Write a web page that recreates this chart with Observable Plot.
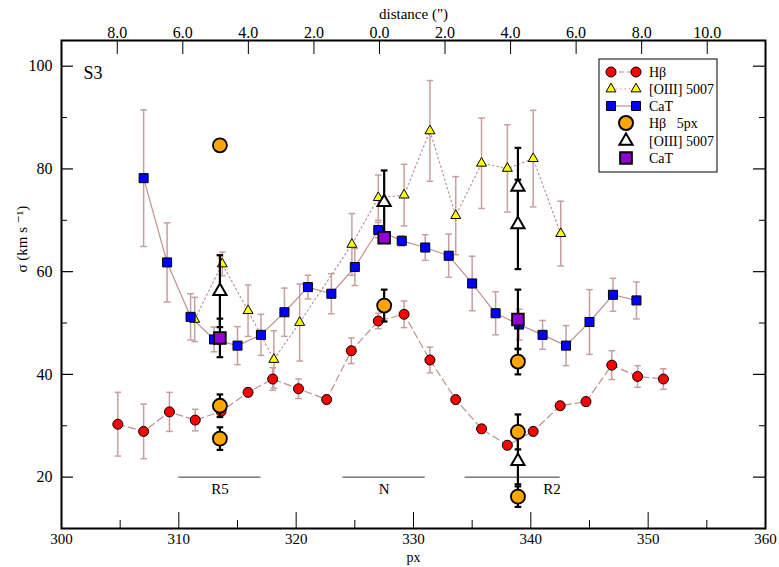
<!DOCTYPE html>
<html><head><meta charset="utf-8">
<script src="https://cdn.jsdelivr.net/npm/d3@7"></script>
<script src="https://cdn.jsdelivr.net/npm/@observablehq/plot@0.6"></script>
<style>
body{margin:0;background:#fff;}
#wrap{position:relative;width:779px;height:567px;font-family:"Liberation Serif","Times New Roman","DejaVu Serif","Noto Serif",serif;}
#wrap svg, #wrap text{font-family:"Liberation Serif","Times New Roman","DejaVu Serif","Noto Serif",serif !important;}
</style></head><body><div id="wrap"></div>
<script>
// ---------- data ----------
const hbX   = [304.8, 307.0, 309.2, 311.4, 313.6, 315.9, 318.0, 320.2, 322.6, 324.7, 327.0, 329.2, 331.4, 333.6, 335.8, 338.0, 340.2, 342.5, 344.7, 346.9, 349.1, 351.3];
const hbY   = [30.3, 28.9, 32.7, 31.1, 32.8, 36.5, 39.1, 37.2, 35.1, 44.6, 50.4, 51.7, 42.8, 35.1, 29.4, 26.2, 28.9, 33.9, 34.7, 41.8, 39.6, 39.1];
const hbErr = [6.2, 5.3, 3.8, 2.1, 0.8, 0.8, 2.2, 1.9, 0.8, 2.5, 1.5, 2.6, 2.5, 0.8, 0.8, 0.8, 0.8, 0.8, 0.8, 2.8, 2.1, 2.0];

const oiiiX   = [311.35, 313.7, 315.9, 318.1, 320.3, 324.75, 327.0, 329.2, 331.4, 333.6, 335.8, 338.0, 340.2, 342.55];
const oiiiY   = [50.7, 61.5, 52.4, 42.9, 50.1, 65.3, 74.4, 74.9, 87.4, 70.9, 81.1, 80.1, 82.0, 67.4];
const oiiiErr = [4.3, 2.3, 5.0, 5.6, 7.5, 6.0, 4.4, 6.0, 9.8, 7.6, 8.8, 8.5, 9.4, 6.3];

const catX   = [307, 309, 311, 313, 315, 317, 319, 321, 323, 325, 327, 329, 331, 333, 335, 337, 339, 341, 343, 345, 347, 349];
const catY   = [78.2, 61.8, 51.2, 46.8, 45.6, 47.7, 52.1, 57.0, 55.7, 60.9, 68.1, 66.0, 64.7, 63.1, 57.7, 51.9, 49.7, 47.7, 45.6, 50.2, 55.5, 54.4];
const catErr = [13.3, 7.7, 4.5, 2.4, 3.7, 4.0, 4.7, 2.3, 3.9, 3.6, 1.5, 1.0, 2.5, 4.2, 5.3, 4.2, 3.0, 2.8, 3.9, 6.3, 3.2, 3.6];

const hbBigX   = [313.5, 313.5, 313.5, 327.5, 338.9, 338.9, 338.9];
const hbBigY   = [84.6, 33.9, 27.5, 53.4, 42.5, 28.8, 16.2];
const hbBigErr = [0, 2.2, 2.2, 3.1, 2.5, 3.4, 2.0];

const oiiiBigX   = [313.5, 327.5, 338.9, 338.9, 338.9];
const oiiiBigY   = [56.2, 73.5, 76.5, 69.2, 23.1];
const oiiiBigErr = [7.0, 6.2, 7.6, 8.7, 4.5];

const catBigX   = [313.5, 327.5, 338.9];
const catBigY   = [47.1, 66.6, 50.7];
const catBigErr = [3.75, 1.0, 5.8];

const regionNames  = ["R5", "N", "R2"];
const regionStart  = [310.0, 324.0, 334.4];
const regionEnd    = [317.0, 331.0, 342.5];
const regionLevel  = [20, 20, 20];
const regionLabelX = [313.5, 327.5, 341.8];

const xMajorTicks = [300, 310, 320, 330, 340, 350, 360];
const xMinorTicks = [305, 315, 325, 335, 345, 355];
const yMajorTicks = [20, 40, 60, 80, 100];
const yMinorTicks = [30, 50, 70, 90];

// top axis: angular distance (arcsec) from the nucleus
const distTicks   = [-8, -6, -4, -2, 0, 2, 4, 6, 8, 10];
const distCenterPx = 327.1;   // px of 0"
const arcsecPerPx  = 0.358;

const legendLabels = ["Hβ", "[OIII] 5007", "CaT", "Hβ\u00a0\u00a0\u00a05px", "[OIII] 5007", "CaT"];

// ---------- layout / style ----------
const W = 779, H = 567, mL = 61, mR = 14, mT = 40, mB = 39;
const innerW = W - mL - mR, innerH = H - mT - mB;
const serif = "Liberation Serif, Times New Roman, DejaVu Serif, Noto Serif, serif";
const errColor = "#c79f9f";
const lineColor = "#c09090";

const rows = (X, Y, E) => X.map((x, i) => ({x, y: Y[i], e: E[i]}));
const hb = rows(hbX, hbY, hbErr);
const oiii = rows(oiiiX, oiiiY, oiiiErr);
const cat = rows(catX, catY, catErr);
const hbBig = rows(hbBigX, hbBigY, hbBigErr);
const oiiiBig = rows(oiiiBigX, oiiiBigY, oiiiBigErr);
const catBig = rows(catBigX, catBigY, catBigErr);
const regions = regionNames.map((n, i) => ({n, x1: regionStart[i], x2: regionEnd[i], y: regionLevel[i], lx: regionLabelX[i]}));
const topTicks = distTicks.map(d => ({px: distCenterPx + d / arcsecPerPx, label: Math.abs(d).toFixed(1)}));

const cap = {draw(ctx, size) { const w = Math.sqrt(size / Math.PI); ctx.moveTo(-w, 0); ctx.lineTo(w, 0); }};

function errMarks(data, color, width, capR) {
  const d = data.filter(r => r.e > 0);
  return [
    Plot.ruleX(d, {x: "x", y1: r => r.y - r.e, y2: r => r.y + r.e, stroke: color, strokeWidth: width}),
    Plot.dot(d, {x: "x", y: r => r.y + r.e, symbol: cap, r: capR, stroke: color, strokeWidth: width, fill: "none"}),
    Plot.dot(d, {x: "x", y: r => r.y - r.e, symbol: cap, r: capR, stroke: color, strokeWidth: width, fill: "none"})
  ];
}

const txt = {fontFamily: serif};

const chart = Plot.plot({
  width: W, height: H,
  marginLeft: mL, marginRight: mR, marginTop: mT, marginBottom: mB,
  style: {"font-family": serif, "font-size": "15px", background: "white", color: "black", overflow: "visible"},
  x: {domain: [300, 360]},
  y: {domain: [10, 105]},
  marks: [
    // lines
    Plot.line(hb, {x: "x", y: "y", stroke: lineColor, strokeWidth: 1.2, strokeDasharray: "7,4"}),
    Plot.line(oiii, {x: "x", y: "y", stroke: lineColor, strokeWidth: 1.2, strokeDasharray: "1.5,3"}),
    Plot.line(cat, {x: "x", y: "y", stroke: lineColor, strokeWidth: 1.2}),
    // error bars (small markers)
    ...errMarks(hb, errColor, 1.5, 3.3),
    ...errMarks(oiii, errColor, 1.5, 3.3),
    ...errMarks(cat, errColor, 1.5, 3.3),
    // region bars
    Plot.ruleY(regions, {y: "y", x1: "x1", x2: "x2", stroke: "#333", strokeWidth: 1}),
    Plot.text(regions, {x: "lx", y: "y", text: "n", dy: 12, fontSize: 15, ...txt}),
    // small markers
    Plot.dot(hb, {x: "x", y: "y", r: 5, fill: "red", stroke: "black", strokeWidth: 1}),
    Plot.dot(oiii, {x: "x", y: "y", r: 3.7, symbol: "triangle", fill: "yellow", stroke: "black", strokeWidth: 1}),
    Plot.dot(cat, {x: "x", y: "y", r: 5.1, symbol: "square", fill: "blue", stroke: "black", strokeWidth: 1}),
    // 5px aperture error bars and markers
    ...errMarks(hbBig, "black", 2.2, 3.3),
    ...errMarks(oiiiBig, "black", 2.2, 3.3),
    ...errMarks(catBig, "black", 2.2, 3.3),
    Plot.dot(hbBig, {x: "x", y: "y", r: 7, fill: "orange", stroke: "black", strokeWidth: 1.8}),
    Plot.dot(oiiiBig, {x: "x", y: "y", r: 4.9, symbol: "triangle", fill: "white", stroke: "black", strokeWidth: 2}),
    Plot.dot(catBig, {x: "x", y: "y", r: 6.6, symbol: "square", fill: "#9400d3", stroke: "black", strokeWidth: 1.8}),
    // inward ticks
    Plot.ruleX(xMajorTicks, {x: d => d, insetTop: innerH - 16, stroke: "black", strokeWidth: 1}),
    Plot.ruleX(xMinorTicks, {x: d => d, insetTop: innerH - 8, stroke: "black", strokeWidth: 1}),
    Plot.ruleX(topTicks, {x: "px", insetBottom: innerH - 14, stroke: "black", strokeWidth: 1}),
    Plot.ruleY(yMajorTicks, {y: d => d, insetRight: innerW - 12, stroke: "black", strokeWidth: 1.2}),
    Plot.ruleY(yMinorTicks, {y: d => d, insetRight: innerW - 6, stroke: "black", strokeWidth: 1}),
    Plot.ruleY(yMajorTicks, {y: d => d, insetLeft: innerW - 12, stroke: "black", strokeWidth: 1.2}),
    Plot.ruleY(yMinorTicks, {y: d => d, insetLeft: innerW - 6, stroke: "black", strokeWidth: 1}),
    Plot.frame({stroke: "black", strokeWidth: 2}),
    // axes labels
    Plot.axisX({ticks: xMajorTicks, tickSize: 0, tickPadding: 5, tickFormat: d => String(d), label: null, fontSize: 15, ...txt}),
    Plot.axisY({ticks: yMajorTicks, tickSize: 0, tickPadding: 9, tickFormat: d => String(d), label: null, fontSize: 16, ...txt}),
    Plot.text(topTicks, {x: "px", text: "label", frameAnchor: "top", dy: -14, fontSize: 16, ...txt}),
    Plot.text(["distance (\")"], {frameAnchor: "top", dy: -32, fontSize: 15, ...txt}),
    Plot.text(["px"], {frameAnchor: "bottom", dy: 29, lineAnchor: "middle", fontSize: 14, ...txt}),
    Plot.text(["σ (km s ⁻¹)"], {frameAnchor: "left", dx: -39, dy: -12, rotate: -90, fontSize: 15, ...txt}),
    Plot.text(["S3"], {frameAnchor: "top-left", dx: 22, dy: 26, textAnchor: "start", fontSize: 18, ...txt})
  ]
});
document.getElementById("wrap").appendChild(chart);

// ---------- legend ----------
const leg = d3.select("#wrap").append("svg")
  .attr("width", 121).attr("height", 116)
  .style("position", "absolute").style("left", "598px").style("top", "58px")
  .attr("font-family", serif);
leg.append("rect").attr("x", 1).attr("y", 1).attr("width", 118).attr("height", 113)
  .attr("fill", "white").attr("stroke", "black").attr("stroke-width", 1);
const rowY = [14, 31, 48, 65, 83, 100];
const sym = (type, r) => d3.symbol(type, Math.PI * r * r)();
const smallSpec = [
  {type: d3.symbolCircle, r: 5, fill: "red", dash: "5,3"},
  {type: d3.symbolTriangle, r: 3.7, fill: "yellow", dash: "1.5,3"},
  {type: d3.symbolSquare, r: 5.1, fill: "blue", dash: null}
];
const bigSpec = [
  {type: d3.symbolCircle, r: 7, fill: "orange"},
  {type: d3.symbolTriangle, r: 4.9, fill: "white"},
  {type: d3.symbolSquare, r: 6.6, fill: "#9400d3"}
];
smallSpec.forEach((s, i) => {
  const y = rowY[i];
  leg.append("line").attr("x1", 13).attr("x2", 38).attr("y1", y).attr("y2", y)
    .attr("stroke", lineColor).attr("stroke-width", 1.2).attr("stroke-dasharray", s.dash);
  [13, 38].forEach(x => leg.append("path").attr("d", sym(s.type, s.r))
    .attr("transform", `translate(${x},${y})`).attr("fill", s.fill).attr("stroke", "black"));
});
bigSpec.forEach((s, i) => {
  const y = rowY[i + 3];
  leg.append("path").attr("d", sym(s.type, s.r)).attr("transform", `translate(28,${y})`)
    .attr("fill", s.fill).attr("stroke", "black").attr("stroke-width", 2);
});
legendLabels.forEach((t, i) => {
  leg.append("text").attr("x", 51).attr("y", rowY[i]).attr("dy", "0.35em")
    .attr("font-size", 14).text(t);
});
</script></body></html>
